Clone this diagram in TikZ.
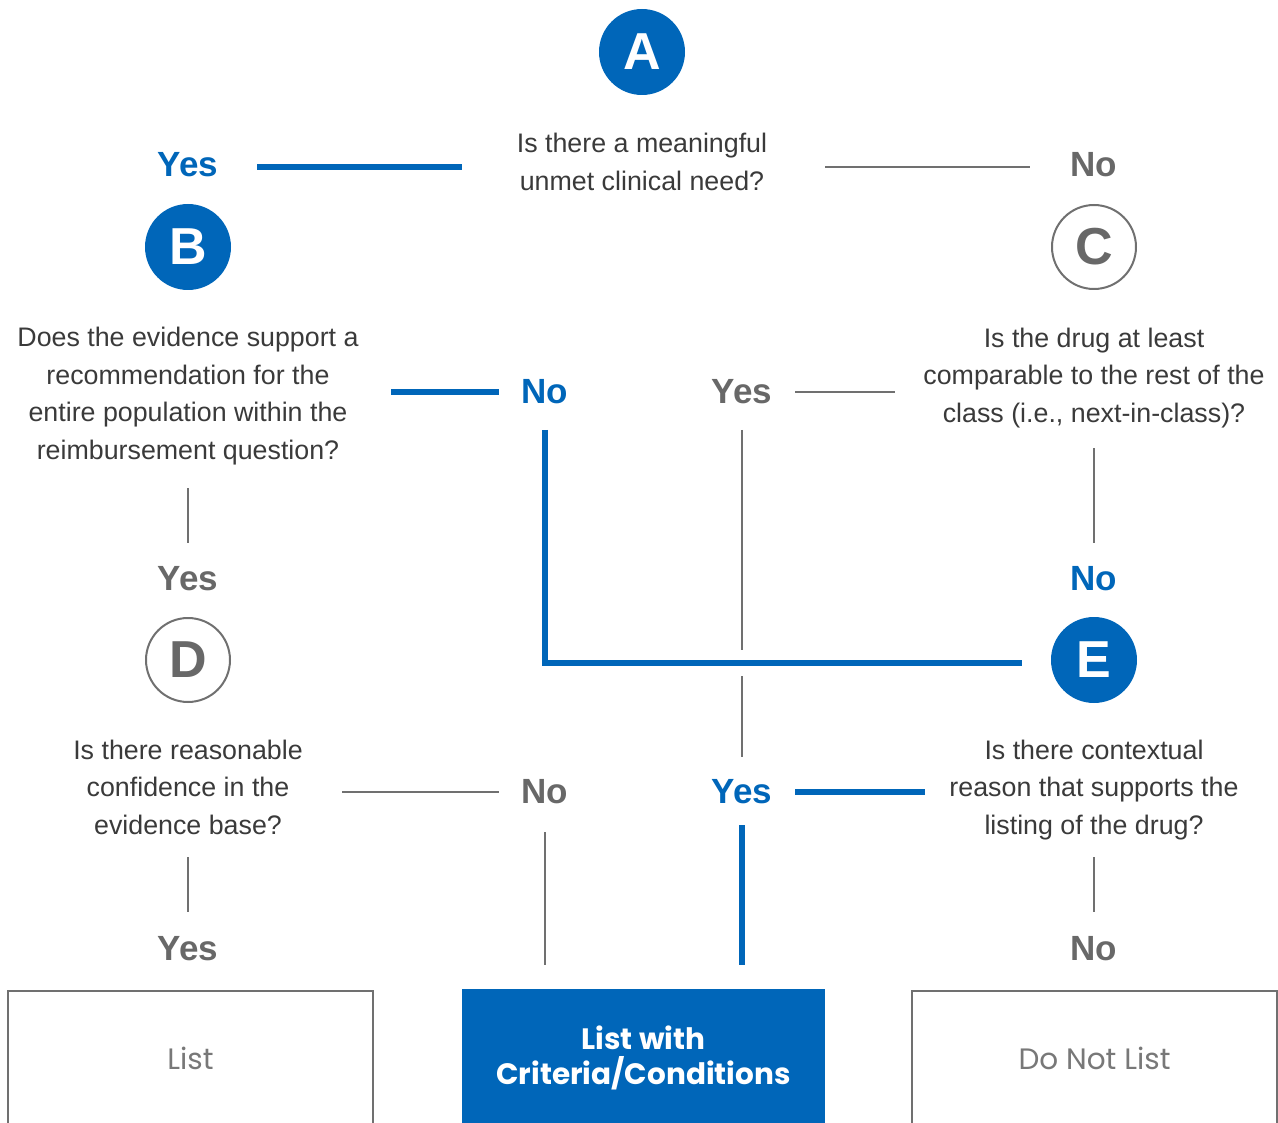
\documentclass[tikz,border=0pt]{standalone}
\usepackage{fontspec}
\setmainfont{Liberation Sans}
\newfontfamily\popfont{Poppins}
\definecolor{brandblue}{RGB}{0,102,185}
\definecolor{linegray}{RGB}{112,112,112}
\definecolor{labelgray}{RGB}{104,104,104}
\definecolor{bodytext}{RGB}{58,58,58}
\definecolor{boxtext}{RGB}{120,120,120}
\tikzset{
  question/.style={align=center, text=bodytext, inner sep=0pt, font=\fontsize{26.8}{37.5}\selectfont},
  lblblue/.style={text=brandblue, inner sep=0pt, font=\bfseries\fontsize{35}{40}\selectfont},
  lblgray/.style={text=labelgray, inner sep=0pt, font=\bfseries\fontsize{35}{40}\selectfont},
  circblue/.style={circle, fill=brandblue, minimum size=86pt, inner sep=0pt, text=white, font=\bfseries\fontsize{52}{52}\selectfont},
  circwhite/.style={circle, draw=linegray, line width=2pt, fill=white, minimum size=84pt, inner sep=0pt, text=labelgray, font=\bfseries\fontsize{52}{52}\selectfont},
  blueline/.style={draw=brandblue, line width=6pt},
  grayline/.style={draw=linegray, line width=2pt},
  outbox/.style={draw=linegray, line width=2pt, fill=white, minimum width=365pt, minimum height=135pt, inner sep=0pt, text=boxtext, font=\popfont\fontsize{29.5}{35}\selectfont},
  bluebox/.style={fill=brandblue, minimum width=363pt, minimum height=138pt, inner sep=0pt, text=white, align=center, font=\popfont\bfseries\fontsize{29.5}{35.5}\selectfont},
}
\begin{document}
\begin{tikzpicture}[x=1pt,y=-1pt]
\useasboundingbox (0,0) rectangle (1278,1123);
% circles
\node[circblue] (A) at (642,52) {A};
\node[circblue] (B) at (188,247) {B};
\node[circwhite] (C) at (1094,247) {C};
\node[circwhite] (D) at (188,660) {D};
\node[circblue] (E) at (1094,660) {E};
% questions
\node[question] (qA) at (642,162) {Is there a meaningful\\unmet clinical need?};
\node[question] (qB) at (188,396) {Does the evidence support a\\recommendation for the\\entire population within the\\reimbursement question?};
\node[question] (qC) at (1094,378) {Is the drug at least\\comparable to the rest of the\\class (i.e., next-in-class)?};
\node[question] (qD) at (188,787) {Is there reasonable\\confidence in the\\evidence base?};
\node[question] (qE) at (1094,790) {Is there contextual\\reason that supports the\\listing of the drug?};
% labels
\node[lblblue] (yA) at (188,165) {Yes};
\node[lblgray] (nA) at (1094,165) {No};
\node[lblblue] (nB) at (545,392) {No};
\node[lblgray] (yC) at (742,392) {Yes};
\node[lblgray] (yB) at (188,579) {Yes};
\node[lblblue] (nC) at (1094,579) {No};
\node[lblgray] (nD) at (545,792) {No};
\node[lblblue] (yE) at (742,792) {Yes};
\node[lblgray] (yD) at (188,949) {Yes};
\node[lblgray] (nE) at (1094,949) {No};
% boxes
\node[outbox] (list) at (190.5,1058.5) {List};
\node[bluebox] (cond) at (643.5,1058) {List with\\Criteria/Conditions};
\node[outbox] (dnl) at (1094.5,1058.5) {Do Not List};
% connector coordinates
\coordinate (a1) at (257,167); \coordinate (a2) at (462,167);
\coordinate (a3) at (825,167); \coordinate (a4) at (1030,167);
\coordinate (b1) at (391,392); \coordinate (b2) at (499,392);
\coordinate (c1) at (795,392); \coordinate (c2) at (895,392);
\coordinate (b3) at (188,488); \coordinate (b4) at (188,543);
\coordinate (c3) at (1094,448); \coordinate (c4) at (1094,543);
\coordinate (n1) at (545,430); \coordinate (n2) at (545,663); \coordinate (n3) at (1022,663);
\coordinate (y1) at (742,430); \coordinate (y2) at (742,650);
\coordinate (y3) at (742,676); \coordinate (y4) at (742,757);
\coordinate (d1) at (342,792); \coordinate (d2) at (499,792);
\coordinate (e1) at (795,792); \coordinate (e2) at (925,792);
\coordinate (d3) at (188,857); \coordinate (d4) at (188,912);
\coordinate (e3) at (1094,857); \coordinate (e4) at (1094,912);
\coordinate (m1) at (545,832); \coordinate (m2) at (545,965);
\coordinate (m3) at (742,825); \coordinate (m4) at (742,965);
% connectors
\draw[blueline] (a1) -- (a2);
\draw[grayline] (a3) -- (a4);
\draw[blueline] (b1) -- (b2);
\draw[grayline] (c1) -- (c2);
\draw[grayline] (b3) -- (b4);
\draw[grayline] (c3) -- (c4);
\draw[blueline] (n1) -- (n2) -- (n3);
\draw[grayline] (y1) -- (y2);
\draw[grayline] (y3) -- (y4);
\draw[grayline] (d1) -- (d2);
\draw[blueline] (e1) -- (e2);
\draw[grayline] (d3) -- (d4);
\draw[grayline] (e3) -- (e4);
\draw[grayline] (m1) -- (m2);
\draw[blueline] (m3) -- (m4);
\end{tikzpicture}
\end{document}
